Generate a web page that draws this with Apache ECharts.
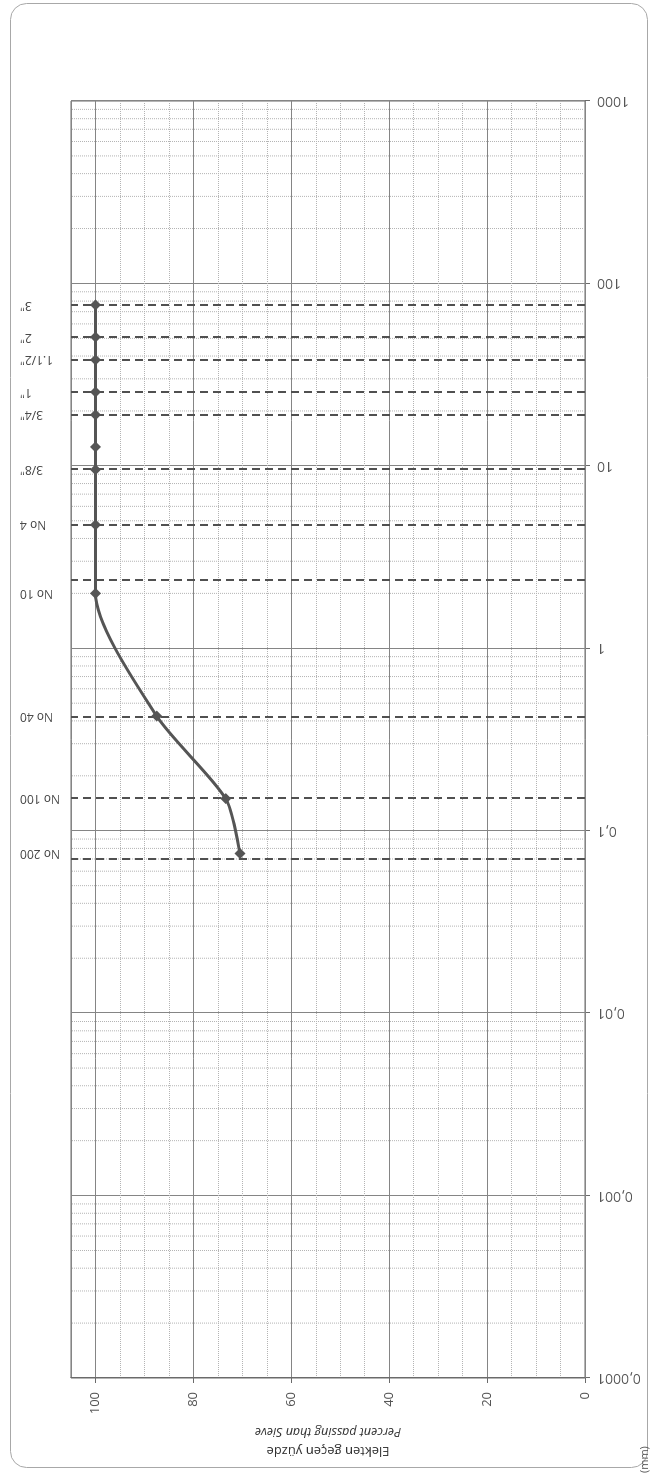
<!DOCTYPE html>
<html><head><meta charset="utf-8">
<script src="https://cdn.jsdelivr.net/npm/echarts@6/dist/echarts.min.js"></script>
<style>
html,body{margin:0;padding:0;overflow:hidden;background:#fff;width:659px;height:1475px;}
#wrap{position:relative;width:659px;height:1475px;overflow:hidden;background:#fff;}
#chart{position:absolute;left:0;top:0;width:1475px;height:659px;transform-origin:0 0;transform:translate(0,1475px) rotate(-90deg);}
</style></head><body><div id="wrap"><div id="chart"></div></div>
<script>
// ---- data ----
const sieveLabels = ['3"', '2"', '1.1/2"', '1"', '3/4"', '3/8"', 'No 4', 'No 10', 'No 40', 'No 100', 'No 200'];
const sieveSizes = [76.2, 50.8, 38.1, 25.4, 19.05, 9.525, 4.75, 2.0, 0.425, 0.15, 0.075];
const dashedSizes = [76.2, 50.8, 38.1, 25.4, 19.05, 9.525, 4.75, 2.36, 0.425, 0.15, 0.075];
const pointSizes = [76.2, 50.8, 38.1, 25.4, 19.05, 12.7, 9.525, 4.75, 2.0, 0.425, 0.15, 0.075];
const pointPercents = [100, 100, 100, 100, 100, 100, 100, 100, 100, 87.5, 73.4, 70.5];
const logTickLabels = ['0,0001', '0,001', '0,01', '0,1', '1', '10', '100', '1000'];
const percentTickLabels = ['0', '20', '40', '60', '80', '100'];
const axisTitle1 = 'Elekten geçen yüzde';
const axisTitle2 = 'Percent passing than Sieve';
const unitText = '(mm)';

// minor log gridlines at 2..9 x 10^k (grid decoration)
const minorLog = [];
for (let k = -4; k <= 2; k++) for (let m = 2; m <= 9; m++) minorLog.push(parseFloat((m * Math.pow(10, k)).toPrecision(3)));
const minorLogData = [];
minorLog.forEach(v => { minorLogData.push([v, 0], [v, 105], [v, '-']); });

const FONT = 'Open Sans';
const chart = echarts.init(document.getElementById('chart'), null, {renderer: 'canvas'});
const option = {
  backgroundColor: '#ffffff',
  animation: false,
  grid: {left: 97, right: 101, top: 71, bottom: 74, show: true, borderColor: '#6a6a6a', borderWidth: 1, backgroundColor: 'transparent'},
  xAxis: [{
    type: 'log', logBase: 10, min: 0.0001, max: 1000, position: 'bottom',
    axisLine: {show: true, lineStyle: {color: '#6a6a6a', width: 1}},
    axisTick: {show: true, length: 5, lineStyle: {color: '#6a6a6a'}},
    axisLabel: {rotate: 90, margin: 12, fontSize: 14, color: '#555', fontFamily: FONT,
      formatter: v => logTickLabels[Math.round(Math.log10(v)) + 4] || ''},
    splitLine: {show: true, lineStyle: {color: '#858585', width: 1}}
  }],
  yAxis: [{
    type: 'value', min: 0, max: 105, interval: 20, position: 'left', z: 3,
    axisLine: {show: true, lineStyle: {color: '#6a6a6a', width: 1}},
    axisTick: {show: true, length: 5, lineStyle: {color: '#6a6a6a'}},
    axisLabel: {margin: 14, fontSize: 13, color: '#555', fontFamily: FONT, showMaxLabel: false,
      formatter: v => percentTickLabels.indexOf(String(v)) >= 0 ? String(v) : ''},
    splitLine: {show: true, lineStyle: {color: '#858585', width: 1}},
    name: '{a|' + axisTitle1 + '}\n{b|' + axisTitle2 + '}',
    nameLocation: 'middle', nameRotate: 90, nameGap: 36,
    nameTextStyle: {rich: {
      a: {fontSize: 13, color: '#333', fontFamily: FONT, lineHeight: 19, align: 'center'},
      b: {fontSize: 12.5, color: '#333', fontFamily: FONT, fontStyle: 'italic', lineHeight: 19, align: 'center'}
    }}
  }, {
    type: 'value', min: 0, max: 105, interval: 5, position: 'left', z: 1,
    axisLine: {show: false}, axisTick: {show: false}, axisLabel: {show: false},
    splitLine: {show: true, lineStyle: {color: '#b4b4b4', width: 1, type: 'dotted'}}
  }],
  series: [{
    type: 'line', xAxisIndex: 0, yAxisIndex: 0, z: 1, silent: true,
    data: minorLogData, showSymbol: false, symbol: 'none', connectNulls: false,
    lineStyle: {color: '#b4b4b4', width: 1, type: 'dotted'}, emphasis: {disabled: true}
  }, {
    type: 'line', xAxisIndex: 0, yAxisIndex: 0, z: 5,
    data: pointSizes.map((s, i) => [s, pointPercents[i]]),
    smooth: 0.25,
    symbol: 'diamond', symbolSize: 11,
    lineStyle: {color: '#555', width: 3},
    itemStyle: {color: '#555'},
    markLine: {silent: true, symbol: ['none', 'none'], animation: false, label: {show: false},
      lineStyle: {color: '#505050', width: 2, type: [8, 5]}, emphasis: {disabled: true},
      data: dashedSizes.map(v => ({xAxis: v}))}
  }]
};
chart.setOption(option);

const graphics = [{
  type: 'rect', silent: true, z: -10,
  shape: {x: 7.5, y: 10.5, width: 1464, height: 637, r: 16},
  style: {fill: 'none', stroke: '#a8a8a8', lineWidth: 1}
}, {
  type: 'text', silent: true, x: 2, y: 645,
  style: {text: unitText, fontSize: 11, fill: '#555', fontFamily: FONT, align: 'left', textAlign: 'left', verticalAlign: 'middle', textVerticalAlign: 'middle'}
}];
sieveSizes.forEach((s, i) => {
  const x = chart.convertToPixel({xAxisIndex: 0}, s);
  graphics.push({
    type: 'text', silent: true, x: x, y: 20, rotation: Math.PI / 2,
    style: {text: sieveLabels[i], fontSize: 12, fill: '#444', fontFamily: FONT,
      align: 'right', textAlign: 'right', verticalAlign: 'middle', textVerticalAlign: 'middle'}
  });
});
chart.setOption({graphic: graphics});
</script></body></html>
